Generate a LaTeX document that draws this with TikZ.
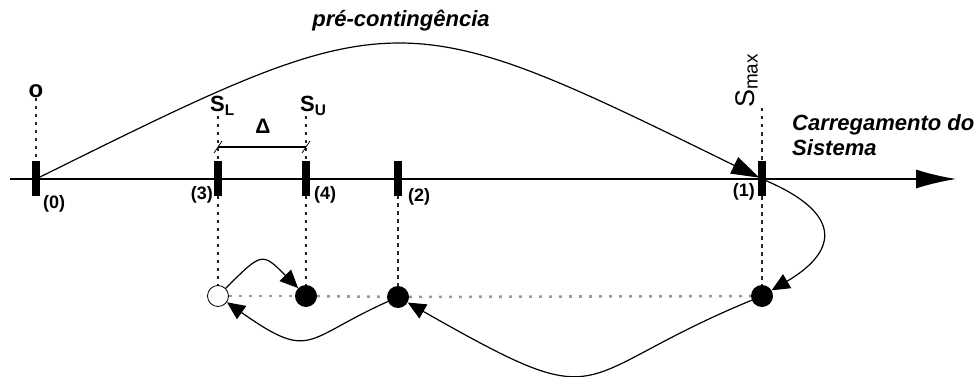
\documentclass[tikz,border=0pt]{standalone}
\usepackage{fontspec}
\setmainfont{Liberation Sans}
\usetikzlibrary{arrows.meta}

\begin{document}
\begin{tikzpicture}[x=1pt,y=-1pt,
    axis/.style={line width=1.4pt},
    flow/.style={line width=1.2pt,-{Triangle[length=18pt,width=16pt]}},
    guide/.style={line width=1.6pt,dash pattern=on 3.5pt off 4.5pt,black!85},
    level/.style={line width=2.6pt,dash pattern=on 2.6pt off 7.4pt,black!40},
    dot/.style={circle,fill,minimum size=22pt,inner sep=0pt},
    hole/.style={circle,draw,fill=white,line width=0.8pt,minimum size=21pt,inner sep=0pt},
    lab/.style={font=\bfseries\fontsize{18}{20}\selectfont,inner sep=0pt},
    ital/.style={font=\bfseries\itshape\fontsize{22}{25}\selectfont,inner sep=0pt}]
  \useasboundingbox (0,0) rectangle (979,377);
  % points on the load axis
  \coordinate (ax0) at (10,179);
  \coordinate (ax1) at (956,179);
  \coordinate (p0) at (36,179);
  \coordinate (p3) at (218,179);
  \coordinate (p4) at (306,179);
  \coordinate (p2) at (398,179);
  \coordinate (p1) at (762,179);
  \draw[axis,-{Latex[length=40pt,width=19pt]}] (ax0) -- (ax1);
  % labels
  \node[lab,font=\bfseries\fontsize{24}{26}\selectfont] (o) at (36,91) {o};
  \node[lab,font=\bfseries\fontsize{22}{24}\selectfont,anchor=base west] (sl) at (210,112) {S\textsubscript{L}};
  \node[lab,font=\bfseries\fontsize{22}{24}\selectfont,anchor=base west] (su) at (300,112) {S\textsubscript{U}};
  \node[lab,font=\fontsize{27}{29}\selectfont,rotate=90,anchor=base west] (smax) at (754,108) {S\textsubscript{max}};
  \node[lab,anchor=north west] (n0) at (43,195) {(0)};
  \node[lab,anchor=east] (n3) at (213,195) {(3)};
  \node[lab,anchor=west] (n4) at (314,195) {(4)};
  \node[lab,anchor=west] (n2) at (408,197) {(2)};
  \node[lab,anchor=east] (n1) at (755,192) {(1)};
  \node[ital,anchor=base] (pre) at (401,27) {pré-contingência};
  \node[ital,anchor=north west,align=left] (carga) at (792,114) {Carregamento do\\Sistema};
  % band between S_L and S_U
  \coordinate (bl) at (218,147);
  \coordinate (br) at (306,147);
  \draw[line width=1.8pt] (bl) -- (br);
  \draw[line width=0.8pt] (bl) +(-4,6) -- +(4,-6);
  \draw[line width=0.8pt] (br) +(-4,6) -- +(4,-6);
  \node[lab,font=\bfseries\fontsize{21}{23}\selectfont] (delta) at (263,126) {Δ};
  % operating points
  \node[hole] (d3) at (218,296) {};
  \node[dot] (d4) at (306,296) {};
  \node[dot] (d2) at (398,297) {};
  \node[dot] (d1) at (762,296) {};
  \draw[guide] (o) -- (p0);
  \draw[guide] (sl.south -| p3) -- (d3);
  \draw[guide] (su.south -| p4) -- (d4);
  \draw[guide] (p2) -- (d2);
  \draw[guide] (smax.west -| p1) -- (d1);
  \draw[level] (d3) -- (d4);
  \draw[level] (d4) -- (d2);
  \draw[level] (d2) -- (d1);
  % trajectory
  \draw[flow,-{Triangle[length=28pt,width=18pt]},shorten >=3pt] (p0) .. controls (397,0) and (397,0) .. (p1);
  \draw[flow] (p1) .. controls (842,212) and (840,250) .. (d1);
  \draw[flow] (d1) .. controls (565,377) and (614,420) .. (d2);
  \draw[flow] (d2) .. controls (304,339) and (312,362) .. (d3);
  \draw[flow] (d3) .. controls (262,252) and (262,252) .. (d4);
  % ticks
  \fill (p0) ++(-4,-18) rectangle ++(8,35);
  \fill (p3) ++(-4,-18) rectangle ++(8,35);
  \fill (p4) ++(-4,-18) rectangle ++(8,35);
  \fill (p2) ++(-4,-18) rectangle ++(8,35);
  \fill (p1) ++(-4,-18) rectangle ++(8,35);
\end{tikzpicture}
\end{document}
